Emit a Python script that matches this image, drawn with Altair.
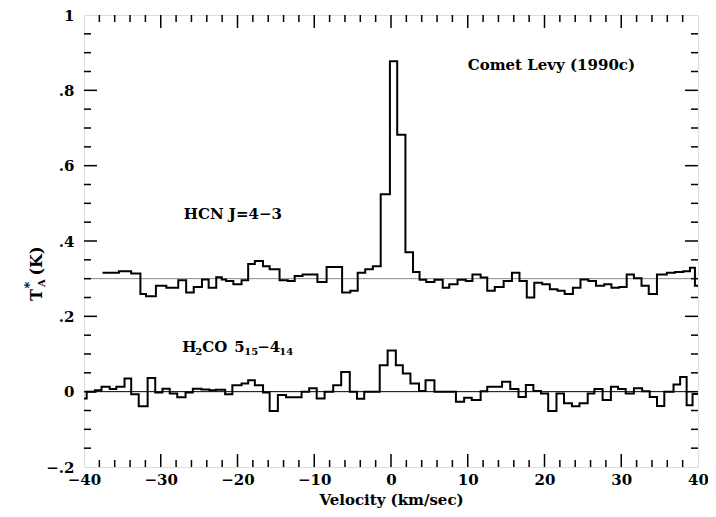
import altair as alt
import pandas as pd

# ---------------- data ----------------
# HCN J=4-3 spectrum (offset by +0.3 K): step edges (km/s) and channel levels (K)
hcn_edges = [-37.59, -35.45, -33.85, -32.65, -31.92, -30.63, -29.27, -27.72, -26.69, -25.70,
             -24.63, -23.76, -22.77, -22.05, -21.48, -20.54, -19.47, -18.61, -17.74, -16.68,
             -15.81, -14.52, -13.45, -12.55, -11.52, -9.59, -8.39, -6.37, -5.30, -4.34,
             -3.36, -2.37, -1.34, -0.14, 0.81, 1.88, 2.87, 3.72, 4.59, 5.66,
             6.74, 7.59, 8.67, 9.74, 10.61, 11.68, 12.54, 13.52, 14.68, 15.76,
             16.74, 17.69, 18.67, 19.70, 20.70, 21.69, 22.63, 23.70, 24.69, 25.72,
             26.71, 27.78, 28.72, 29.72, 30.71, 31.65, 32.64, 33.58, 34.65, 35.94,
             37.02, 38.09, 38.96, 39.60, 40.00]
hcn_levels = [0.316, 0.320, 0.314, 0.259, 0.253, 0.281, 0.276, 0.296, 0.263, 0.278,
              0.298, 0.276, 0.304, 0.298, 0.294, 0.285, 0.296, 0.339, 0.347, 0.333,
              0.325, 0.296, 0.294, 0.307, 0.311, 0.291, 0.331, 0.263, 0.268, 0.316,
              0.325, 0.333, 0.524, 0.877, 0.682, 0.370, 0.318, 0.297, 0.291, 0.297,
              0.276, 0.285, 0.297, 0.294, 0.311, 0.303, 0.268, 0.278, 0.294, 0.316,
              0.294, 0.250, 0.289, 0.285, 0.272, 0.268, 0.259, 0.276, 0.298, 0.294,
              0.281, 0.285, 0.276, 0.278, 0.311, 0.301, 0.281, 0.259, 0.311, 0.316,
              0.318, 0.320, 0.329, 0.281]

# H2CO 5(15)-4(14) spectrum: step edges (km/s) and channel levels (K)
h2co_edges = [-40.00, -39.65, -38.58, -37.72, -36.65, -35.79, -34.72, -33.85, -32.87, -31.71,
              -30.72, -29.78, -28.83, -27.85, -26.77, -25.82, -24.70, -23.67, -22.82, -21.61,
              -20.67, -19.47, -18.61, -17.74, -16.67, -15.81, -14.74, -13.67, -11.65, -10.66,
              -9.68, -8.65, -7.53, -6.49, -5.37, -4.43, -3.49, -1.47, -0.44, 0.63,
              1.54, 2.53, 3.65, 4.50, 5.66, 8.46, 9.53, 10.52, 11.68, 12.54,
              14.47, 15.54, 16.61, 17.57, 18.55, 19.54, 20.48, 21.56, 22.54, 23.57,
              24.56, 25.63, 26.50, 27.57, 28.65, 29.59, 30.58, 31.65, 32.72, 33.71,
              34.66, 35.61, 36.81, 37.67, 38.52, 39.29, 40.00]
h2co_levels = [-0.018, 0.000, 0.004, 0.013, 0.007, 0.013, 0.035, -0.007, -0.039, 0.036,
               -0.002, 0.008, -0.005, -0.015, -0.002, 0.008, 0.006, 0.004, 0.005, -0.007,
               0.017, 0.022, 0.030, 0.017, -0.002, -0.051, -0.009, -0.015, 0.000, 0.009,
               -0.018, 0.000, 0.017, 0.052, 0.000, -0.019, 0.000, 0.070, 0.109, 0.070,
               0.048, 0.022, 0.002, 0.030, 0.000, -0.027, -0.016, -0.022, 0.001, 0.013,
               0.026, 0.007, -0.014, 0.018, 0.002, -0.005, -0.051, -0.005, -0.031, -0.039,
               -0.031, -0.005, 0.007, -0.022, 0.013, 0.007, -0.005, 0.009, 0.001, -0.014,
               -0.038, 0.000, 0.019, 0.039, -0.036, -0.006]

baselines = [0.3, 0.0]

x_major = [-40, -30, -20, -10, 0, 10, 20, 30, 40]
x_minor = [v for v in range(-38, 40, 2) if v % 10 != 0]
y_major = [-0.2, 0.0, 0.2, 0.4, 0.6, 0.8, 1.0]
y_minor = [round(-0.15 + 0.05 * i, 2) for i in range(23) if round((-0.15 + 0.05 * i) / 0.2, 6) % 1 != 0]

# annotation anchors (km/s, K) and the text pieces (main text / lowered subscripts)
title_label = {"v": 10.0, "t": 0.866, "label": "Comet Levy (1990c)"}
hcn_label = {"v": -27.0, "t": 0.471, "label": "HCN  J=4\u22123"}
h2co_anchor = {"v": -27.2, "t": 0.118}
h2co_pieces = [("H", 0, False), ("2", 13, True), ("CO", 20, False), ("5", 52, False),
               ("15", 62, True), ("\u22124", 75, False), ("14", 97, True)]

assert len(hcn_edges) == len(hcn_levels) + 1
assert len(h2co_edges) == len(h2co_levels) + 1

# ---------------- build tables ----------------
rows = []
for name, edges, levels in [("HCN", hcn_edges, hcn_levels), ("H2CO", h2co_edges, h2co_levels)]:
    for i, (e, l) in enumerate(zip(edges[:-1], levels)):
        rows.append({"series": name, "v": e, "t": l, "o": i})
    rows.append({"series": name, "v": edges[-1], "t": levels[-1], "o": len(levels)})
spec = pd.DataFrame(rows)

W, H = 614, 452
FONT = "DejaVu Serif"

xs = alt.Scale(domain=[-40, 40], nice=False, zero=False)
ys = alt.Scale(domain=[-0.2, 1.0], nice=False, zero=False)

x_axis = alt.Axis(values=x_major, ticks=False, domain=False, grid=False,
                  labelExpr="replace(format(datum.value, 'd'), '-', '\u2212')",
                  labelFont=FONT, labelFontSize=15, labelFontWeight="bold", labelColor="black",
                  labelPadding=5, labelFlush=False, title="Velocity (km/sec)", titleFont=FONT,
                  titleFontSize=15, titleFontWeight="bold", titleColor="black", titlePadding=5)
y_axis = alt.Axis(values=y_major, ticks=False, domain=False, grid=False,
                  labelExpr="datum.value == 0 ? '0' : datum.value == 1 ? '1' : "
                            "replace(replace(format(datum.value, '.1f'), '0.', '.'), '-', '\u2212')",
                  labelFont=FONT, labelFontSize=15, labelFontWeight="bold", labelColor="black",
                  labelPadding=10, labelFlush=False, title=None)

X = lambda f: alt.X(f, scale=xs, axis=x_axis)
Y = lambda f: alt.Y(f, scale=ys, axis=y_axis)

base_df = pd.DataFrame({"t": baselines, "kind": ["HCN", "H2CO"]})
base_rules = alt.Chart(base_df).mark_rule(strokeWidth=1).encode(
    y=Y("t:Q"),
    x=alt.value(0), x2=alt.value(W),
    color=alt.Color("kind:N", scale=alt.Scale(domain=["HCN", "H2CO"], range=["#8a8a8a", "#000000"]), legend=None),
)

lines = alt.Chart(spec).mark_line(interpolate="step-after", color="black", strokeWidth=2).encode(
    x=X("v:Q"), y=Y("t:Q"), detail="series:N", order="o:Q",
)

def xticks(vals, length):
    d = pd.DataFrame({"v": vals})
    bot = alt.Chart(d).mark_rule(color="black", strokeWidth=1.5).encode(
        x=X("v:Q"), y=alt.value(H), y2=alt.value(H - length))
    top = alt.Chart(d).mark_rule(color="black", strokeWidth=1.5).encode(
        x=X("v:Q"), y=alt.value(0), y2=alt.value(length))
    return [bot, top]

def yticks(vals, length):
    d = pd.DataFrame({"t": vals})
    left = alt.Chart(d).mark_rule(color="black", strokeWidth=1.5).encode(
        y=Y("t:Q"), x=alt.value(0), x2=alt.value(length))
    right = alt.Chart(d).mark_rule(color="black", strokeWidth=1.5).encode(
        y=Y("t:Q"), x=alt.value(W), x2=alt.value(W - length))
    return [left, right]

tick_layers = (xticks([v for v in x_major if abs(v) != 40], 13) + xticks(x_minor, 7)
               + yticks([t for t in y_major if t not in (-0.2, 1.0)], 13) + yticks(y_minor, 7))

ann = alt.Chart(pd.DataFrame([title_label, hcn_label])).mark_text(
    align="left", baseline="middle", font=FONT, fontSize=15, fontWeight="bold", color="black"
).encode(x=X("v:Q"), y=Y("t:Q"), text="label:N")

h2co_layers = []
for txt, dx, sub in h2co_pieces:
    h2co_layers.append(alt.Chart(pd.DataFrame([{**h2co_anchor, "s": txt}])).mark_text(
        align="left", baseline="middle", font=FONT, fontSize=10 if sub else 15,
        fontWeight="bold", color="black", dx=dx, dy=5 if sub else 0
    ).encode(x=X("v:Q"), y=Y("t:Q"), text="s:N"))

# y-axis title: T with superscript * and subscript A, then (K)
title_parts = [("T", -47, 280, 16), ("A", -42, 268, 10), ("*", -54, 270, 13), ("(K)", -47, 246, 16)]
ytitle = []
for s, px, py, fs in title_parts:
    ytitle.append(alt.Chart(pd.DataFrame({"s": [s]})).mark_text(
        angle=270, align="center", baseline="middle", font=FONT, fontSize=fs,
        fontWeight="bold", color="black"
    ).encode(x=alt.value(px), y=alt.value(py), text="s:N"))

chart = alt.layer(base_rules, lines, *tick_layers, ann, *h2co_layers, *ytitle).properties(
    width=W, height=H,
    autosize=alt.AutoSizeParams(type="none"),
    padding={"left": 76, "top": 7, "right": 10, "bottom": 42},
).configure_view(stroke="black", strokeWidth=2).configure(background="white")

chart.save("out.html", embed_options={"renderer": "svg", "actions": False})
